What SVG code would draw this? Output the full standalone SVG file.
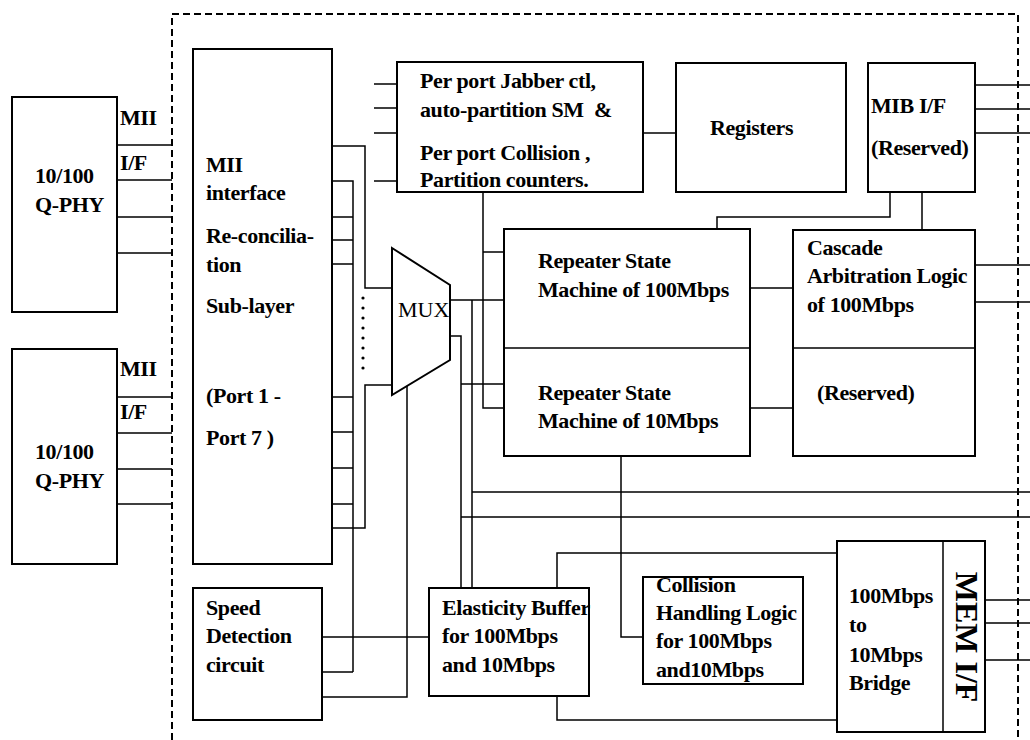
<svg xmlns="http://www.w3.org/2000/svg" width="1030" height="740" viewBox="0 0 1030 740">
<style>
.box{fill:#fff;stroke:#000;stroke-width:2}
.ln{fill:none;stroke:#000;stroke-width:1.5}
.dash{fill:none;stroke:#000;stroke-width:2;stroke-dasharray:7,4}
text{font-family:"Liberation Serif","Times New Roman",serif;font-size:22px;font-weight:bold;fill:#000;letter-spacing:-0.4px}
.reg{font-weight:normal;font-size:22px;letter-spacing:0}
.big{font-size:32px;letter-spacing:0}
</style>
<rect width="1030" height="740" fill="#fff"/>
<path class="dash" d="M172,740 V14 H1018 V740"/>

<g id="connectors">
<path class="ln" d="M117,145H172M117,180H172M117,217H172M117,253H172"/>
<path class="ln" d="M117,397H172M117,433H172M117,469H172M117,504H172"/>
<path class="ln" d="M332,146H365V288H392"/>
<path class="ln" d="M332,181H353V672M332,217H353M332,240H353M332,264H353M332,397H353M332,432H353M332,468H353M332,504H353M322,672H353"/>
<path class="ln" d="M332,528H365V385H392"/>
<path class="ln" d="M374,84H397M374,108H397M374,133H397M374,181H397"/>
<path class="ln" d="M450,300H504M450,336H461V588M472,300V588M483,192V408H504M483,252H504M461,384H504"/>
<path class="ln" d="M472,492H1030M461,517H1030"/>
<path class="ln" d="M407,386V697H322M322,637H429"/>
<path class="ln" d="M557,588V553H837M557,696V720H837"/>
<path class="ln" d="M621,456V637H643"/>
<path class="ln" d="M750,288H793M750,408H793"/>
<path class="ln" d="M975,265H1030M975,302H1030M975,85H1030M975,109H1030M975,133H1030"/>
<path class="ln" d="M890,192V217H717V229M922,192V230"/>
<path class="ln" d="M643,133H676"/>
<path class="ln" d="M985,600H1030M985,623H1030M985,660H1030"/>
<g fill="#000"><circle cx="363" cy="298" r="1.6"/><circle cx="363" cy="308" r="1.6"/><circle cx="363" cy="318" r="1.6"/><circle cx="363" cy="328" r="1.6"/><circle cx="363" cy="338" r="1.6"/><circle cx="363" cy="348" r="1.6"/><circle cx="363" cy="358" r="1.6"/><circle cx="363" cy="368" r="1.6"/></g>
</g>

<g id="qphy1"><rect class="box" x="12" y="97" width="105" height="215"/><text x="35" y="183">10/100</text><text x="35" y="212">Q-PHY</text><text x="120" y="125">MII</text><text x="120" y="170">I/F</text></g>
<g id="qphy2"><rect class="box" x="12" y="349" width="105" height="215"/><text x="35" y="459">10/100</text><text x="35" y="488">Q-PHY</text><text x="120" y="376">MII</text><text x="120" y="419">I/F</text></g>
<g id="mii"><rect class="box" x="193" y="49" width="139" height="515"/>
<text x="206" y="172">MII</text><text x="206" y="200">interface</text><text x="206" y="243">Re-concilia-</text><text x="206" y="272">tion</text><text x="206" y="313">Sub-layer</text><text x="206" y="403">(Port 1 -</text><text x="206" y="445">Port 7 )</text></g>
<g id="speed"><rect class="box" x="193" y="588" width="129" height="132"/><text x="206" y="615">Speed</text><text x="206" y="643">Detection</text><text x="206" y="672">circuit</text></g>
<g id="perport"><rect class="box" x="397" y="62" width="246" height="130"/><text x="420" y="88">Per port Jabber ctl,</text><text x="420" y="117" xml:space="preserve">auto-partition SM  &amp;</text><text x="420" y="160">Per port Collision ,</text><text x="420" y="187">Partition counters.</text></g>
<g id="registers"><rect class="box" x="676" y="63" width="170" height="129"/><text x="710" y="135">Registers</text></g>
<g id="mib"><rect class="box" x="868" y="63" width="107" height="129"/><text x="871" y="113">MIB I/F</text><text x="871" y="155">(Reserved)</text></g>
<g id="mux"><polygon class="box" points="392,248 450,285 450,360 392,395"/><text class="reg" x="398" y="317">MUX</text></g>
<g id="repeater"><rect class="box" x="504" y="229" width="246" height="227"/><path class="ln" d="M504,348H750"/><text x="538" y="268">Repeater State</text><text x="538" y="297">Machine of 100Mbps</text><text x="538" y="400">Repeater State</text><text x="538" y="428">Machine of 10Mbps</text></g>
<g id="cascade"><rect class="box" x="793" y="230" width="182" height="226"/><path class="ln" d="M793,348H975"/><text x="807" y="255">Cascade</text><text x="807" y="283">Arbitration Logic</text><text x="807" y="312">of 100Mbps</text><text x="817" y="400">(Reserved)</text></g>
<g id="elasticity"><rect class="box" x="429" y="588" width="160" height="108"/><text x="442" y="615">Elasticity Buffer</text><text x="442" y="643">for 100Mbps</text><text x="442" y="672">and 10Mbps</text></g>
<g id="collision"><rect class="box" x="643" y="577" width="160" height="107"/><text x="656" y="592">Collision</text><text x="656" y="620">Handling Logic</text><text x="656" y="648">for 100Mbps</text><text x="656" y="677">and10Mbps</text></g>
<g id="bridge"><rect class="box" x="837" y="541" width="148" height="191"/><path class="ln" d="M943,541V732"/><text x="849" y="603">100Mbps</text><text x="849" y="632">to</text><text x="849" y="662">10Mbps</text><text x="849" y="690">Bridge</text><text class="big" text-anchor="middle" transform="translate(956,637) rotate(90)" x="0" y="0">MEM I/F</text></g>
</svg>
